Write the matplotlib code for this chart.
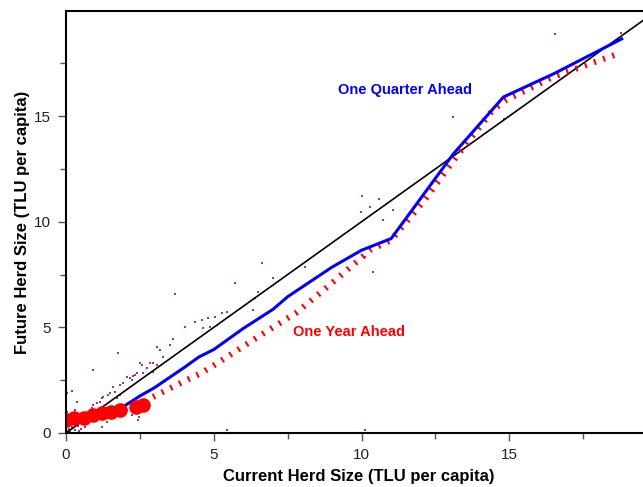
import matplotlib
matplotlib.use("Agg")
import matplotlib.pyplot as plt
from matplotlib.ticker import MultipleLocator

plt.rcParams["font.family"] = ["Liberation Sans", "DejaVu Sans"]
plt.rcParams["lines.scale_dashes"] = False

# household observations (current vs future herd size)
obs_x = [1.77, 0.92, 2.50, 2.56, 2.39, 2.33, 2.05, 2.17, 2.22, 1.94, 1.83, 1.60,
         1.66, 1.49, 1.43, 1.26, 1.21, 1.15, 1.04, 0.92, 0.87, 0.81, 0.75, 0.70,
         0.19, 0.36, 0.25, 0.14, 0.08, 3.52, 3.18, 3.07, 2.84, 2.73, 2.95, 2.62,
         3.29, 1.21, 1.38, 0.42, 0.30, 0.02, 1.88, 2.05, 2.22, 2.45, 1.83, 1.72,
         4.36, 4.03, 3.62, 3.07, 2.94, 2.27, 2.47, 6.62, 5.72, 6.39, 6.34, 6.51,
         7.01, 5.27, 5.44, 5.04, 4.81, 4.59, 4.87, 4.65, 8.09, 10.40, 10.11, 5.44,
         10.10, 3.69, 13.09, 16.54, 18.78, 10.00, 10.28, 10.60, 9.98, 11.05, 10.72,
         14.82, 0.05, 0.10, 0.15, 0.20, 0.30, 0.40, 0.50, 0.60, 0.10, 0.02, 0.02,
         0.55, 0.65, 0.35, 0.45]
obs_y = [3.80, 2.98, 3.30, 3.22, 2.83, 2.74, 2.66, 2.59, 2.51, 2.35, 2.27, 2.19,
         1.95, 1.88, 1.80, 1.72, 1.64, 1.48, 1.41, 1.33, 1.17, 1.09, 1.01, 0.93,
         2.00, 1.48, 0.85, 0.62, 0.46, 4.16, 3.93, 3.22, 3.30, 3.06, 2.90, 2.83,
         3.61, 0.30, 0.53, 0.77, 1.09, 0.30, 1.33, 1.09, 0.85, 0.62, 1.80, 1.64,
         5.25, 5.02, 4.45, 4.07, 3.30, 2.70, 0.76, 8.06, 7.08, 6.37, 5.82, 6.69,
         7.32, 5.66, 5.74, 5.50, 5.43, 5.35, 5.03, 4.96, 7.87, 7.63, 8.34, 0.14,
         0.14, 6.58, 14.96, 18.88, 18.93, 11.20, 10.70, 11.07, 10.45, 10.55, 10.08,
         14.86, 0.10, 0.20, 0.05, 0.30, 0.15, 0.35, 0.20, 0.45, 0.40, 1.00, 1.90,
         0.60, 0.30, 0.55, 0.10]

# one quarter ahead (smoothed)
qtr_x = [0.0, 0.5, 1.0, 1.5, 2.0, 2.5, 3.0, 4.0, 4.5, 5.0, 6.0, 7.0, 7.5, 8.25,
         9.0, 10.0, 11.0, 13.1, 14.8, 16.5, 18.8]
qtr_y = [0.5, 0.6, 0.78, 0.95, 1.3, 1.75, 2.15, 3.1, 3.6, 3.95, 4.95, 5.85, 6.45,
         7.15, 7.85, 8.65, 9.2, 13.2, 15.9, 17.0, 18.65]

# one year ahead (smoothed)
yr_x = [2.7, 2.94, 3.5, 4.0, 4.53, 5.0, 6.0, 7.0, 7.8, 9.0, 10.3, 11.0, 12.14,
        13.2, 14.45, 14.9, 16.48, 18.74]
yr_y = [1.4, 1.7, 2.1, 2.45, 2.8, 3.2, 4.1, 5.0, 5.7, 7.1, 8.66, 9.13, 11.03,
        13.06, 15.3, 15.76, 16.85, 17.98]

# one year ahead, dense low-herd observations
yr_dot_x = [0.0, 0.27, 0.6, 0.91, 1.22, 1.52, 1.83, 2.37, 2.6]
yr_dot_y = [0.62, 0.72, 0.71, 0.85, 0.95, 1.0, 1.09, 1.23, 1.33]

diag = [0, 20]

fig = plt.figure(figsize=(6.43, 4.87), dpi=100)
ax = fig.add_axes([66 / 643, 1 - 433 / 487, 1 - 66 / 643, (433 - 11) / 487])

ax.plot(obs_x, obs_y, "s", color="#993399", markersize=1.7, markeredgewidth=0)
ax.plot(diag, diag, color="black", linewidth=1.2)
ax.plot(yr_x, yr_y, color="red", linewidth=4.3, dashes=(1.5, 5.5),
        dash_capstyle="butt")
ax.plot(qtr_x, qtr_y, color="blue", linewidth=2.2)
ax.plot(yr_dot_x, yr_dot_y, "o", color="red", markersize=9.5)

ax.text(11.47, 16.23, "One Quarter Ahead", color="blue", fontsize=10.5,
        fontweight="bold", ha="center", va="center")
ax.text(9.57, 4.78, "One Year Ahead", color="red", fontsize=10.5,
        fontweight="bold", ha="center", va="center")

ax.set_xlim(0, 19.52)
ax.set_ylim(0, 19.97)
ax.xaxis.set_major_locator(MultipleLocator(5))
ax.xaxis.set_minor_locator(MultipleLocator(2.5))
ax.yaxis.set_major_locator(MultipleLocator(5))
ax.yaxis.set_minor_locator(MultipleLocator(2.5))
ax.tick_params(which="both", direction="out", color="#555555", labelsize=11,
               labelcolor="#222222")
ax.tick_params(which="major", length=6, width=1)
ax.tick_params(which="minor", length=4, width=1)
ax.tick_params(axis="x", pad=5)
ax.tick_params(axis="y", pad=5)

for side in ["left", "bottom", "top"]:
    ax.spines[side].set_linewidth(1.5)
ax.spines["right"].set_visible(False)

ax.set_xlabel("Current Herd Size (TLU per capita)", fontsize=12, fontweight="bold")
ax.set_ylabel("Future Herd Size (TLU per capita)", fontsize=12, fontweight="bold")
ax.xaxis.set_label_coords((359 - 66) / 577, -(469 - 433) / 422)
ax.yaxis.set_label_coords(-(66 - 30) / 577, 0.5)

fig.savefig("out.png", dpi=100)
